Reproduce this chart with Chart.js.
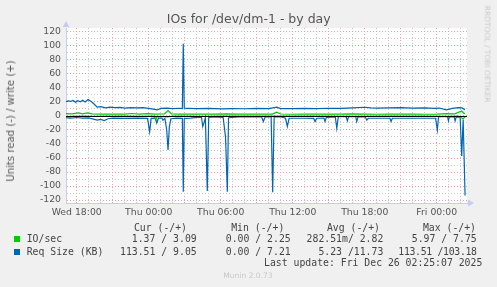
<!DOCTYPE html>
<html>
<head>
<meta charset="utf-8">
<title>IOs for /dev/dm-1 - by day</title>
<script src="https://cdn.jsdelivr.net/npm/chart.js@4.4.1/dist/chart.umd.min.js"></script>
<style>
  html, body { margin: 0; padding: 0; background: #f0f0f0; }
  #wrap { position: relative; width: 497px; height: 287px; overflow: hidden; }
  #chart { position: absolute; left: 0; top: 0; }
  .t { position: absolute; white-space: pre; line-height: 1; color: #444; }
  .mono { font-family: "DejaVu Sans Mono", monospace; font-size: 9.8px; }
  .sans { font-family: "DejaVu Sans", sans-serif; }
  .sq { position: absolute; width: 6px; height: 6px; }
</style>
</head>
<body>
<div id="wrap">
  <canvas id="chart" width="497" height="287"></canvas>
  <div class="t sans" style="left:248.7px; top:19px; font-size:12.5px; color:#555; transform:translate(-50%,-50%);">IOs for /dev/dm-1 - by day</div>
  <div class="t sans" style="left:10.5px; top:121px; font-size:10.1px; color:#555; transform:translate(-50%,-50%) rotate(-90deg);">Units read (-) / write (+)</div>
  <div class="t sans" style="left:487.3px; top:53.5px; font-size:7.5px; color:#cacaca; transform:translate(-50%,-50%) rotate(90deg);">RRDTOOL / TOBI OETIKER</div>
  <div class="t sans" style="left:223.3px; top:276px; font-size:7.55px; color:#c8c8c8; transform:translateY(-50%);">Munin 2.0.73</div>
  <div id="legend"></div>
</div>
<script>
// ── data (hours since Wed 00:00) ─────────────────
const xTickHours  = [18, 24, 30, 36, 42, 48];
const xTickLabels = ['Wed 18:00', 'Thu 00:00', 'Thu 06:00', 'Thu 12:00', 'Thu 18:00', 'Fri 00:00'];

// IO/sec, write (+)
const ioWriteT = [17.11, 17.6, 18.17, 18.5, 18.9, 19.3, 20, 21, 22, 22.6, 23.2, 23.9, 24.5, 25.3, 25.61, 25.9,
  26.5, 27.5, 28.5, 29.5, 30.5, 31.5, 32.5, 33.5, 34.3, 34.67, 35, 36, 37, 38, 39, 40, 41, 42, 43, 44, 45, 46,
  47, 48, 48.8, 49.5, 50.08, 50.25, 50.36];
const ioWrite  = [3.2, 2.9, 4.5, 3.0, 4.3, 3.1, 2.6, 2.8, 2.5, 3.5, 2.6, 3.4, 2.7, 2.9, 7.75, 3.0,
  2.6, 2.8, 2.5, 2.7, 2.9, 2.5, 2.6, 2.8, 2.6, 5.5, 2.8, 2.4, 2.7, 2.5, 2.8, 2.6, 2.9, 2.5, 2.4, 2.7, 2.5, 2.6,
  2.4, 2.7, 3.3, 2.9, 7.0, 4.0, 3.09];

// IO/sec, read (-)
const ioReadT = [17.11, 17.35, 17.6, 18.5, 19.5, 20.5, 22, 23.5, 24.45, 24.58, 24.7, 25.6, 26, 27, 28.5, 30,
  31, 33, 35, 37, 39, 41, 43, 45, 47, 48.9, 49.8, 50.2, 50.36];
const ioRead  = [-0.5, -2.5, -0.4, -0.3, -0.5, -0.2, -0.3, -0.4, -0.3, -5.97, -0.5, -1.5, -0.2, -0.2, -0.6, -0.2,
  -0.1, -0.3, -0.2, -0.3, -0.2, -0.4, -0.2, -0.3, -0.2, -0.5, -0.3, -4.0, -1.37];

// Req Size (KB), write (+)
const reqWriteT = [17.11, 17.3, 17.5, 17.7, 17.9, 18.1, 18.3, 18.5, 18.7, 18.95, 19.2, 19.45, 19.7, 20.0, 20.4,
  20.8, 21.2, 21.6, 22.0, 22.5, 23.0, 23.5, 24.0, 24.5, 24.7, 25.0, 25.5, 26.0, 26.5, 26.8, 26.88, 26.96, 27.3,
  28, 29, 30, 31, 32, 33, 34, 34.67, 35, 36, 37, 38, 39, 40, 41, 42, 42.5, 43, 44, 45, 46, 47, 47.8, 48.2, 48.8,
  49.3, 49.8, 50.1, 50.36];
const reqWrite  = [20.5, 21.5, 20.8, 22, 19.5, 21.8, 20.2, 22.5, 19.8, 23.5, 20.5, 17, 12.5, 13.2, 11.5,
  12.6, 11.8, 12.2, 11.3, 11.9, 11.4, 11.8, 10.9, 9.5, 8.6, 10.8, 11.2, 10.6, 11.0, 10.5, 103.18, 11, 10.9,
  10.5, 10.7, 10.2, 10.6, 10.3, 10.8, 10.4, 12.6, 10.5, 10.4, 10.8, 10.6, 11, 10.8, 11.5, 12.4, 11.4, 11.2, 11.5,
  11.8, 11.2, 11.4, 10.8, 11.3, 8.6, 10.9, 12, 11.5, 9.05];

// Req Size (KB), read (-)
const reqReadT = [17.11, 17.5, 18.0, 18.5, 19.0, 19.4, 19.7, 20.0, 20.3, 20.6, 21.0, 22.0, 23.0, 23.9, 24.08,
  24.2, 24.55, 24.67, 24.8, 25.1, 25.19, 25.35, 25.5, 25.61, 25.72, 25.85, 26.3, 26.8, 26.88, 26.96, 27.5, 28.0,
  28.4, 28.5, 28.6, 28.72, 28.88, 29.0, 29.5, 30.2, 30.4, 30.55, 30.65, 31.5, 32.5, 33.4, 33.55, 33.7, 34.2,
  34.33, 34.45, 35.0, 35.4, 35.55, 35.7, 37.0, 37.75, 37.86, 38.0, 38.6, 38.69, 38.8, 39.55, 39.67, 39.8, 40.45,
  40.55, 40.65, 41.25, 41.33, 41.45, 42.05, 42.17, 42.3, 44.1, 44.19, 44.3, 47.9, 48.05, 48.15, 48.9, 48.97,
  49.05, 49.45, 49.53, 49.62, 49.95, 50.08, 50.2, 50.36];
const reqRead  = [-2.5, -3, -2.2, -3.2, -2.8, -4.5, -6, -5, -6.5, -4, -3.2, -3.5, -3, -3.4, -22.4,
  -3.5, -3, -10, -3.2, -3, -6, -3.5, -20, -48.6, -15, -4, -3, -3.5, -108, -3.5, -3, -2,
  -2, -15, -10, -2.5, -107, -2, -1.5, -2, -30, -108, -2.5, -1.5, -1, -1.2, -8, -1.5, -1.5,
  -109, -1.5, -1.2, -3.3, -15, -3.3, -3.3, -3.5, -8, -3.3, -3, -8, -2, -1.5, -17.6, -1, -1,
  -7, -1, -1, -8, -1.2, -1.5, -6, -3.3, -3.3, -8, -3.3, -3.3, -20, -1, -1, -7,
  -1.5, -1, -7, -1.5, -2, -57, -5, -113.51];

// legend texts
const legendNames  = ['IO/sec', 'Req Size (KB)'];
const legendColors = ['#00cc00', '#0066b3'];
const legendHeads  = ['Cur (-/+)', 'Min (-/+)', 'Avg (-/+)', 'Max (-/+)'];
const legendCur = ['1.37 / 3.09', '113.51 / 9.05'];
const legendMin = ['0.00 / 2.25', '0.00 / 7.21'];
const legendAvg = ['282.51m/ 2.82', '5.23 /11.73'];
const legendMax = ['5.97 / 7.75', '113.51 /103.18'];
const lastUpdate = 'Last update: Fri Dec 26 02:25:07 2025';

const pts = (t, v) => t.map((x, i) => ({ x, y: v[i] }));

/* ── legend block ─────────────────────────────── */
function addText(parent, text, x, y, alignRight) {
  const d = document.createElement('div');
  d.className = 't mono';
  d.textContent = text;
  d.style.left = x + 'px';
  d.style.top = y + 'px';
  d.style.transform = alignRight ? 'translate(-100%,-50%)' : 'translateY(-50%)';
  parent.appendChild(d);
  return d;
}

function buildLegend() {
  const el = document.getElementById('legend');
  const headRight = [187, 284.3, 380, 476];
  const valRight = [196.7, 290.7, 383.3, 476.7];
  const rowY = [239.3, 251.7];
  legendHeads.forEach((h, i) => addText(el, h, headRight[i], 227.7, true));
  legendNames.forEach((name, r) => {
    const sq = document.createElement('div');
    sq.className = 'sq';
    sq.style.left = '14px';
    sq.style.top = (rowY[r] - 3) + 'px';
    sq.style.background = legendColors[r];
    el.appendChild(sq);
    addText(el, name, 26.7, rowY[r], false);
    [legendCur, legendMin, legendAvg, legendMax].forEach((col, c) => {
      const d = addText(el, col[r], valRight[c], rowY[r], true);
      if (col[r].length > 13) d.style.letterSpacing = '-0.3px';
    });
  });
  addText(el, lastUpdate, 482.3, 263.3, true);
}

/* ── plot background, zero line, axis arrows ──── */
const plotDecor = {
  id: 'plotDecor',
  beforeDraw(chart) {
    const { ctx, chartArea: a } = chart;
    ctx.save();
    ctx.fillStyle = '#ffffff';
    ctx.fillRect(a.left, a.top, a.right - a.left, a.bottom - a.top);
    ctx.restore();
  },
  afterDatasetsDraw(chart) {
    const { ctx, chartArea: a, scales } = chart;
    const y0 = Math.round(scales.y.getPixelForValue(0)) + 0.5;
    ctx.save();
    ctx.strokeStyle = '#000000';
    ctx.lineWidth = 1;
    ctx.beginPath();
    ctx.moveTo(a.left, y0);
    ctx.lineTo(a.right, y0);
    ctx.stroke();
    ctx.fillStyle = '#c9ccf2';
    ctx.beginPath();
    ctx.moveTo(a.left - 3.5, a.top - 1);
    ctx.lineTo(a.left + 3.5, a.top - 1);
    ctx.lineTo(a.left, a.top - 7);
    ctx.fill();
    ctx.beginPath();
    ctx.moveTo(a.right + 1, a.bottom - 3.5);
    ctx.lineTo(a.right + 1, a.bottom + 3.5);
    ctx.lineTo(a.right + 7, a.bottom);
    ctx.fill();
    ctx.restore();
  },
};

const MAJOR = '#f0a0a0';
const MINOR = '#c8c8c8';
const AXIS = '#c9ccf2';
const tickFont = { family: 'DejaVu Sans', size: 9.3 };

function line(label, data, color) {
  return {
    label,
    data,
    borderColor: color,
    backgroundColor: color,
    borderWidth: 1.2,
    pointRadius: 0,
    tension: 0,
    fill: false,
  };
}

new Chart(document.getElementById('chart'), {
  type: 'line',
  data: {
    datasets: [
      line('IO/sec read', pts(ioReadT, ioRead), '#00cc00'),
      line('IO/sec write', pts(ioWriteT, ioWrite), '#00cc00'),
      line('Req Size read', pts(reqReadT, reqRead), '#0066b3'),
      line('Req Size write', pts(reqWriteT, reqWrite), '#0066b3'),
    ],
  },
  options: {
    responsive: false,
    animation: false,
    layout: { padding: { left: 0, top: 28, right: 30, bottom: 64 } },
    plugins: { legend: { display: false }, tooltip: { enabled: false }, title: { display: false } },
    scales: {
      x: {
        type: 'linear',
        min: 17.108,
        max: 50.52,
        afterFit: s => { s.height = 20; },
        grid: {
          drawTicks: false,
          color: c => (c.tick && c.tick.value % 3 === 0 ? MAJOR : MINOR),
        },
        border: { color: AXIS, width: 1, dash: [1, 2] },
        ticks: {
          stepSize: 1,
          includeBounds: false,
          autoSkip: false,
          maxRotation: 0,
          padding: 4,
          color: '#555',
          font: tickFont,
          callback: v => {
            const i = xTickHours.indexOf(v);
            return i >= 0 ? xTickLabels[i] : '';
          },
        },
      },
      y: {
        type: 'linear',
        min: -124.2,
        max: 125.5,
        afterFit: s => { s.width = 66; },
        grid: {
          drawTicks: false,
          color: c => (c.tick && c.tick.value % 20 === 0 ? MAJOR : MINOR),
        },
        border: { color: AXIS, width: 1, dash: [1, 2] },
        ticks: {
          stepSize: 10,
          includeBounds: false,
          autoSkip: false,
          padding: 5,
          color: '#555',
          font: tickFont,
          callback: v => (v % 20 === 0 ? String(v) : ''),
        },
      },
    },
  },
  plugins: [plotDecor],
});

buildLegend();
</script>
</body>
</html>
